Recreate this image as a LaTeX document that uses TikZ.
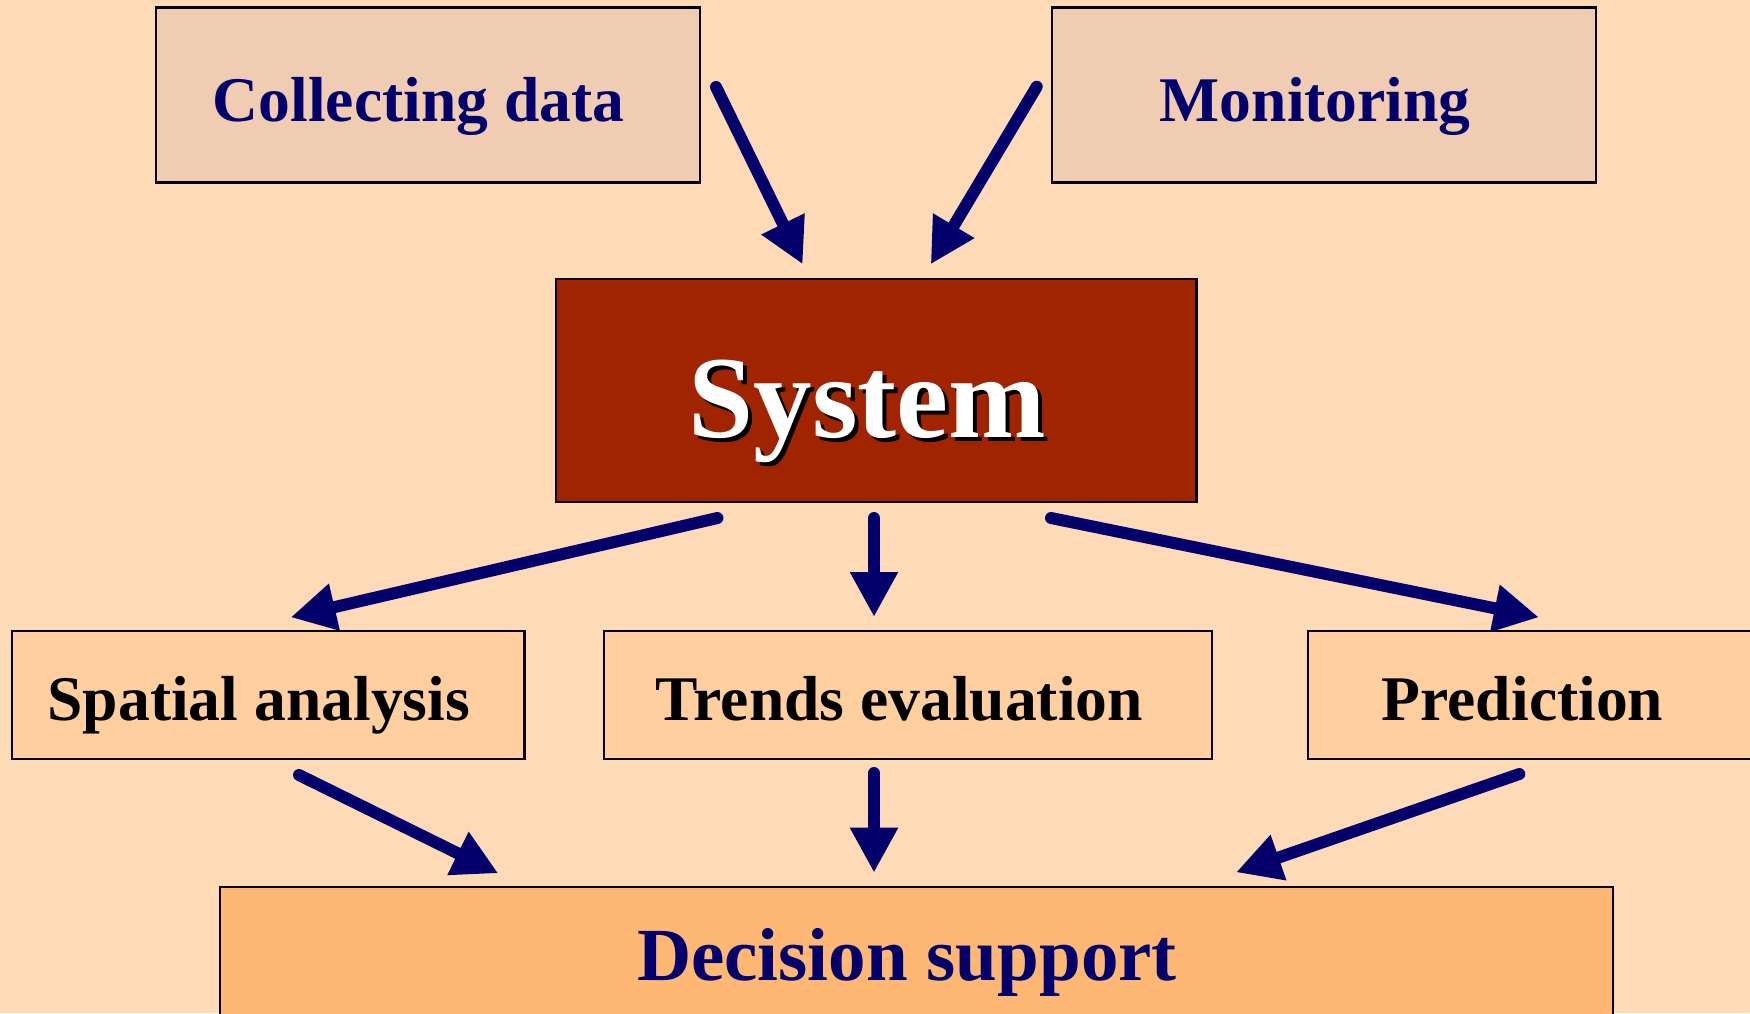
\documentclass[tikz,border=0pt]{standalone}
\usepackage{fontspec}
\setmainfont{Liberation Serif}
\usetikzlibrary{arrows.meta}
\definecolor{bg}{HTML}{FEDAB7}
\definecolor{topbox}{HTML}{EFCCB2}
\definecolor{sysred}{HTML}{A02400}
\definecolor{midbox}{HTML}{FFCF9F}
\definecolor{decbox}{HTML}{FFB874}
\definecolor{navy}{HTML}{03006B}
\tikzset{
  box/.style={draw=black, line width=2.2pt, inner sep=0pt},
  lbl/.style={anchor=base, inner sep=0pt, font=\bfseries\fontsize{63.6}{70}\selectfont},
  biglbl/.style={anchor=base, inner sep=0pt, font=\bfseries\fontsize{75}{80}\selectfont},
  syslbl/.style={anchor=base, inner sep=0pt, font=\bfseries\fontsize{117}{120}\selectfont},
  flow/.style={draw=navy, line width=12pt, line cap=round, -{Triangle[length=45pt,width=45pt]}}
}
\begin{document}
\begin{tikzpicture}[x=1pt,y=-1pt]
\useasboundingbox (0,0) rectangle (1750,1013);
\clip (0,0) rectangle (1750,1013);
\fill[bg] (0,0) rectangle (1750,1013);

% boxes
\node[box, fill=topbox, minimum width=544pt, minimum height=175pt] (collect) at (428,95) {};
\node[box, fill=topbox, minimum width=544pt, minimum height=175pt] (monitor) at (1324.2,95) {};
\node[box, fill=sysred, minimum width=640.5pt, minimum height=223pt] (system) at (876.25,390.5) {};
\node[box, fill=midbox, minimum width=512.5pt, minimum height=128pt] (spatial) at (268.25,695) {};
\node[box, fill=midbox, minimum width=608pt, minimum height=128pt] (trends) at (908,695) {};
\node[box, fill=midbox, minimum width=462pt, minimum height=128pt] (predict) at (1539,695) {};
\node[box, fill=decbox, minimum width=1393pt, minimum height=143pt] (decision) at (916.5,958.5) {};

% texts
\node[lbl, text=navy] (tcollect) at (418.7,121) {Collecting data};
\node[lbl, text=navy] (tmonitor) at (1315.3,121) {Monitoring};
\node[syslbl, text=black] (tsysshadow) at (871.2,441) {System};
\node[syslbl, text=white] (tsystem) at (867.2,437) {System};
\node[lbl, text=black] (tspatial) at (258.8,720) {Spatial analysis};
\node[lbl, text=black] (ttrends) at (899.5,720) {Trends evaluation};
\node[lbl, text=black] (tpredict) at (1522.5,720) {Prediction};
\node[biglbl, text=navy] (tdecision) at (907,980) {Decision support};

% connector end points
\coordinate (a1s) at (716,87);     \coordinate (a1e) at (802.7,264.3);
\coordinate (a2s) at (1036.7,86.7); \coordinate (a2e) at (930.7,264.3);
\coordinate (a3s) at (717.4,518);  \coordinate (a3e) at (290.6,617.3);
\coordinate (a4s) at (874,518);    \coordinate (a4e) at (874,617);
\coordinate (a5s) at (1051,518);   \coordinate (a5e) at (1539,617.3);
\coordinate (a6s) at (299,775);    \coordinate (a6e) at (498.3,873.3);
\coordinate (a7s) at (874,773);    \coordinate (a7e) at (874,872.7);
\coordinate (a8s) at (1519.3,774); \coordinate (a8e) at (1236,872.3);

\draw[flow] (a1s) -- (a1e);
\draw[flow] (a2s) -- (a2e);
\draw[flow] (a3s) -- (a3e);
\draw[flow] (a4s) -- (a4e);
\draw[flow] (a5s) -- (a5e);
\draw[flow] (a6s) -- (a6e);
\draw[flow] (a7s) -- (a7e);
\draw[flow] (a8s) -- (a8e);
\end{tikzpicture}
\end{document}
